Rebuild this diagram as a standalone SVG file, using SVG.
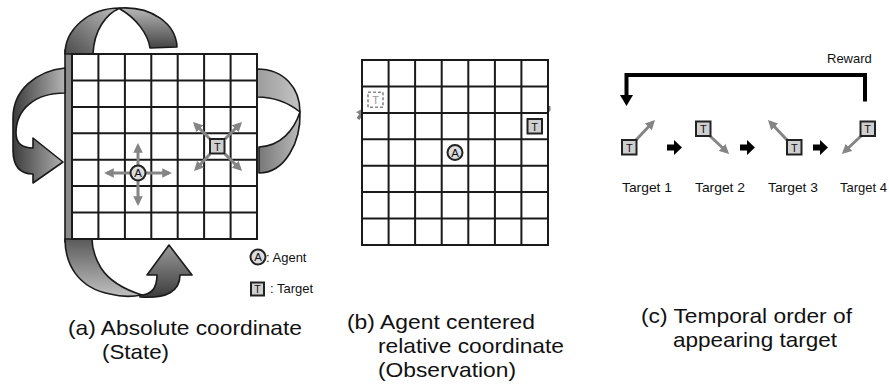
<svg xmlns="http://www.w3.org/2000/svg" width="889" height="385" viewBox="0 0 889 385">
<style>
.grid{fill:#fff;stroke:#1a1a1a;stroke-width:2}
.gl{fill:none;stroke:#1a1a1a;stroke-width:2}
.rib{stroke:#1a1a1a;stroke-width:1.6;stroke-linejoin:round}
.ga{fill:none;stroke:#858585;stroke-width:3;marker-end:url(#gh)}
.box{fill:#cfcfcf;stroke:#222;stroke-width:2}
.ghost{fill:#fff;stroke:#888;stroke-width:1.6;stroke-dasharray:3 2}
.agent{fill:#dcdcdc;stroke:#222;stroke-width:2}
.lt{font-family:"Liberation Sans",Arial,sans-serif;fill:#111}
.cap{font-family:"Liberation Sans",Arial,sans-serif;font-size:21px;fill:#111}
.sm{font-family:"Liberation Sans",Arial,sans-serif;font-size:13px;fill:#111}
.blk{fill:#000}
</style>
<defs>
<marker id="gh" viewBox="0 0 10 10" refX="7" refY="5" markerWidth="3.2" markerHeight="3.2" orient="auto" markerUnits="strokeWidth">
<path d="M0,0 L10,5 L0,10 Z" fill="#858585"/>
</marker>
<linearGradient id="gLeft" x1="0" y1="0" x2="1" y2="0"><stop offset="0" stop-color="#3c3c3c"/><stop offset="1" stop-color="#b4b4b4"/></linearGradient>
<linearGradient id="gTopL" x1="0" y1="1" x2="1" y2="0"><stop offset="0" stop-color="#4a4a4a"/><stop offset="1" stop-color="#bdbdbd"/></linearGradient>
<linearGradient id="gTopR" x1="0" y1="0" x2="0" y2="1"><stop offset="0" stop-color="#b8b8b8"/><stop offset="1" stop-color="#444"/></linearGradient>
<linearGradient id="gBotL" x1="0" y1="0" x2="0" y2="1"><stop offset="0" stop-color="#5a5a5a"/><stop offset="1" stop-color="#c0c0c0"/></linearGradient>
<linearGradient id="gBotR" x1="0" y1="0" x2="0" y2="1"><stop offset="0" stop-color="#9a9a9a"/><stop offset="1" stop-color="#3c3c3c"/></linearGradient>
<linearGradient id="gRU" x1="0" y1="0" x2="1" y2="0"><stop offset="0" stop-color="#9c9c9c"/><stop offset="1" stop-color="#c4c4c4"/></linearGradient>
<linearGradient id="gRD" x1="0" y1="0" x2="1" y2="0"><stop offset="0" stop-color="#777"/><stop offset="1" stop-color="#bbb"/></linearGradient>
</defs>

<!-- Panel (a): wrap-around ribbons -->
<g id="ribbons-a">
<rect class="rib" x="65" y="50" width="12" height="192" fill="#8a8a8a"/>
<path class="rib" fill="url(#gTopL)" d="M65,54 C65,30 88,8 120,8 C106,14 94,30 93,54 Z"/>
<path class="rib" fill="url(#gTopR)" d="M120,8 C152,6 176,24 177,47 L150,48 C148,34 136,18 120,9 Z"/>
<path class="rib" fill="url(#gBotL)" d="M65,239 C65,264 78,288 110,294 C121,297 132,297 142,295 C126,290 110,282 101,268 C95,258 92,250 92,239 Z"/>
<path class="rib" fill="url(#gBotR)" d="M140,295 C152,295 157,288 157,275 L147,275 L169,245 L192,275 L180,275 C180,291 167,299 140,297 Z"/>
<path class="rib" fill="url(#gLeft)" d="M65,68 C36,71 13,90 13,118 L13,150 C13,167 21,174 33,174 L33,183 L63,162 L33,138 L33,148 C22,148 16,143 16,133 C16,110 34,93 65,93 Z"/>
<path class="rib" fill="url(#gRU)" d="M257,69 C284,69 300,88 300,112 C290,104 276,97 257,97 Z"/>
<path class="rib" fill="url(#gRD)" d="M300,112 C301,142 285,173 259,173 L259,147 C281,146 294,130 300,112 Z"/>
</g>

<!-- Panel (a) grid -->
<g id="grid-a">
<rect class="grid" x="72" y="54" width="185" height="185"/>
<path class="gl" d="M98.4,54V239M124.9,54V239M151.3,54V239M177.7,54V239M204.1,54V239M230.6,54V239M72,80.4H257M72,106.9H257M72,133.3H257M72,159.7H257M72,186.1H257M72,212.6H257"/>
</g>

<g id="connectors">
<!-- agent moves (a) -->
<path class="ga" d="M138,165 V146"/>
<path class="ga" d="M138,181 V203"/>
<path class="ga" d="M130,173 H107"/>
<path class="ga" d="M146,173 H169"/>
<!-- target moves (a) -->
<path class="ga" d="M210,139 L195,124"/>
<path class="ga" d="M225,139 L240,124"/>
<path class="ga" d="M210,154 L196,169"/>
<path class="ga" d="M225,154 L240,169"/>
<!-- panel (b) wrap arrows -->
<path d="M541,119 L549,110 L549,106" stroke="#7a7a7a" stroke-width="3" fill="none" stroke-linejoin="round"/>
<path d="M358,119 L365,109" stroke="#7a7a7a" stroke-width="3.5" fill="none" marker-end="url(#gh)"/>
<!-- panel (c) target moves -->
<path class="ga" d="M636,140 L653,122"/>
<path class="ga" d="M710,136 L727,152"/>
<path class="ga" d="M787,140 L770,122"/>
<path class="ga" d="M861,136 L844,152"/>
<!-- panel (c) sequence arrows -->
<path class="blk" d="M667,144.5 H674 V140 L682,147.5 L674,155 V150.5 H667 Z"/>
<path class="blk" d="M740,144.5 H747 V140 L755,147.5 L747,155 V150.5 H740 Z"/>
<path class="blk" d="M813,144.5 H820 V140 L828,147.5 L820,155 V150.5 H813 Z"/>
<!-- reward -->
<path d="M865,101.5 V75 H626.5 V96" fill="none" stroke="#000" stroke-width="4"/>
<path class="blk" d="M620,95 H633 L626.5,106 Z"/>
</g>

<g id="agent-a">
<circle class="agent" cx="138" cy="173" r="7.5"/>
<text class="lt" x="138" y="177.2" font-size="11.5" text-anchor="middle">A</text>
</g>
<g id="target-a">
<rect class="box" x="210" y="139" width="14.5" height="14.5"/>
<text class="lt" x="217.3" y="150.5" font-size="11" text-anchor="middle">T</text>
</g>

<g id="legend">
<circle class="agent" cx="258" cy="257" r="7.5"/>
<text class="lt" x="258" y="261.2" font-size="11.5" text-anchor="middle">A</text>
<text class="sm" x="266" y="261.5">: Agent</text>
<rect class="box" x="251" y="282.5" width="13" height="13"/>
<text class="lt" x="257.5" y="293" font-size="10.5" text-anchor="middle">T</text>
<text class="sm" x="270" y="293">: Target</text>
</g>

<!-- Panel (b) -->
<g id="grid-b">
<rect class="grid" x="362" y="60" width="186" height="185"/>
<path class="gl" d="M388.6,60V245M415.1,60V245M441.7,60V245M468.3,60V245M494.9,60V245M521.4,60V245M362,86.4H548M362,112.9H548M362,139.3H548M362,165.7H548M362,192.1H548M362,218.6H548"/>
</g>
<g id="agent-b">
<circle class="agent" cx="455" cy="152.5" r="7.5"/>
<text class="lt" x="455" y="156.7" font-size="11.5" text-anchor="middle">A</text>
</g>
<g id="target-b">
<rect class="box" x="527.5" y="119" width="14.5" height="14.5"/>
<text class="lt" x="534.7" y="130.5" font-size="11" text-anchor="middle">T</text>
</g>
<g id="ghost-b">
<rect class="ghost" x="368" y="92.3" width="15" height="15"/>
<text class="lt" x="375.5" y="104" font-size="11" text-anchor="middle" style="fill:#999">T</text>
</g>

<!-- Panel (c) -->
<g id="target1">
<rect class="box" x="622" y="140" width="14.5" height="14.5"/>
<text class="lt" x="629.3" y="151.5" font-size="11" text-anchor="middle">T</text>
<text class="sm" x="622" y="192" textLength="50" lengthAdjust="spacingAndGlyphs">Target 1</text>
</g>
<g id="target2">
<rect class="box" x="696" y="121.5" width="14.5" height="14.5"/>
<text class="lt" x="703.3" y="133" font-size="11" text-anchor="middle">T</text>
<text class="sm" x="695" y="192" textLength="50" lengthAdjust="spacingAndGlyphs">Target 2</text>
</g>
<g id="target3">
<rect class="box" x="787" y="140" width="14.5" height="14.5"/>
<text class="lt" x="794.3" y="151.5" font-size="11" text-anchor="middle">T</text>
<text class="sm" x="768" y="192" textLength="50" lengthAdjust="spacingAndGlyphs">Target 3</text>
</g>
<g id="target4">
<rect class="box" x="860.5" y="121.5" width="14.5" height="14.5"/>
<text class="lt" x="867.7" y="133" font-size="11" text-anchor="middle">T</text>
<text class="sm" x="840" y="192" textLength="47" lengthAdjust="spacingAndGlyphs">Target 4</text>
</g>
<g id="reward-label">
<text class="sm" x="827" y="63">Reward</text>
</g>

<!-- Captions -->
<g id="captions">
<text class="cap" x="68" y="335" textLength="234" lengthAdjust="spacingAndGlyphs">(a) Absolute coordinate</text>
<text class="cap" x="102" y="359" textLength="67" lengthAdjust="spacingAndGlyphs">(State)</text>
<text class="cap" x="347" y="329" textLength="188" lengthAdjust="spacingAndGlyphs">(b) Agent centered</text>
<text class="cap" x="378" y="353" textLength="186" lengthAdjust="spacingAndGlyphs">relative coordinate</text>
<text class="cap" x="378" y="377" textLength="138" lengthAdjust="spacingAndGlyphs">(Observation)</text>
<text class="cap" x="641" y="323" textLength="211" lengthAdjust="spacingAndGlyphs">(c) Temporal order of</text>
<text class="cap" x="673" y="347" textLength="164" lengthAdjust="spacingAndGlyphs">appearing target</text>
</g>
</svg>
